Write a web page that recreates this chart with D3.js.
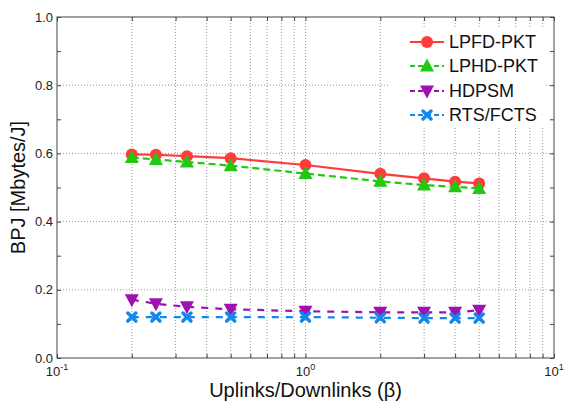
<!DOCTYPE html>
<html>
<head>
<meta charset="utf-8">
<script src="https://cdn.jsdelivr.net/npm/d3@7"></script>
<style>
  body { margin: 0; background: #fff; }
  svg { font-family: "Liberation Sans", Arial, sans-serif; }
</style>
</head>
<body>
<div id="chart"></div>
<script>
const beta = [0.2, 0.25, 1 / 3, 0.5, 1, 2, 3, 4, 5];
const lpfdPkt = [0.597, 0.596, 0.592, 0.586, 0.566, 0.54, 0.527, 0.517, 0.512];
const lphdPkt = [0.588, 0.582, 0.575, 0.564, 0.541, 0.518, 0.507, 0.502, 0.497];
const hdpsm = [0.171, 0.159, 0.15, 0.143, 0.137, 0.134, 0.134, 0.134, 0.14];
const rtsFcts = [0.12, 0.12, 0.12, 0.12, 0.12, 0.118, 0.117, 0.117, 0.117];
const yTicks = [0, 0.2, 0.4, 0.6, 0.8, 1.0];

const series = [
  { name: "LPFD-PKT", values: lpfdPkt, color: "#ff3b3b", dash: null, marker: "circle" },
  { name: "LPHD-PKT", values: lphdPkt, color: "#22c811", dash: "7,4", marker: "up" },
  { name: "HDPSM", values: hdpsm, color: "#a010b0", dash: "7,7", marker: "down" },
  { name: "RTS/FCTS", values: rtsFcts, color: "#1188ee", dash: "7,7", marker: "x" }
];

const W = 566, H = 405;
const M = { left: 57, right: 12, top: 17, bottom: 47 };

const svg = d3.select("#chart").append("svg")
  .attr("width", W).attr("height", H);

const x = d3.scaleLog().domain([0.1, 10]).range([M.left, W - M.right]);
const y = d3.scaleLinear().domain([0, 1]).range([H - M.bottom, M.top]);

// grid
const minorX = [];
for (let d = 0.1; d < 10; d *= 10)
  for (let k = 1; k <= 9; k++) minorX.push(+(d * k).toPrecision(3));
minorX.push(10);

svg.append("g").selectAll("line").data(minorX.filter(v => v > 0.1 && v < 10)).join("line")
  .attr("x1", d => x(d)).attr("x2", d => x(d))
  .attr("y1", M.top).attr("y2", H - M.bottom)
  .attr("stroke", "#999").attr("stroke-width", 1).attr("stroke-dasharray", "1,2");

svg.append("g").selectAll("line").data(yTicks.filter(v => v > 0 && v < 1)).join("line")
  .attr("x1", M.left).attr("x2", W - M.right)
  .attr("y1", d => y(d)).attr("y2", d => y(d))
  .attr("stroke", "#999").attr("stroke-width", 1).attr("stroke-dasharray", "1,2");

// axes (ticks inside, mirrored)
const yMinor = d3.range(0, 1.01, 0.1);
const axG = svg.append("g");
axG.append("g").attr("transform", `translate(${M.left},0)`)
  .call(d3.axisRight(y).tickValues(yMinor).tickSize(4).tickFormat(""))
  .call(g => g.select(".domain").remove());
axG.append("g").attr("transform", `translate(${W - M.right},0)`)
  .call(d3.axisLeft(y).tickValues(yMinor).tickSize(4).tickFormat(""))
  .call(g => g.select(".domain").remove());
axG.append("g").attr("transform", `translate(0,${H - M.bottom})`)
  .call(d3.axisTop(x).tickValues(minorX).tickSize(4).tickFormat(""))
  .call(g => g.select(".domain").remove());
axG.append("g").attr("transform", `translate(0,${M.top})`)
  .call(d3.axisBottom(x).tickValues(minorX).tickSize(4).tickFormat(""))
  .call(g => g.select(".domain").remove());
axG.selectAll(".tick line").attr("stroke", "#444");

// y tick labels
svg.append("g").selectAll("text").data(yTicks).join("text")
  .attr("x", M.left - 4).attr("y", d => y(d)).attr("dy", "0.35em")
  .attr("text-anchor", "end").attr("font-size", 13).attr("fill", "#222")
  .text(d => d.toFixed(1));

// x tick labels 10^n
const xLab = svg.append("g").selectAll("text").data([0.1, 1, 10]).join("text")
  .attr("x", d => x(d)).attr("y", H - M.bottom + 18)
  .attr("text-anchor", "middle").attr("font-size", 13).attr("fill", "#222");
xLab.append("tspan").text("10");
xLab.append("tspan").attr("dy", -6).attr("font-size", 9).text(d => Math.round(Math.log10(d)));

// frame
svg.append("rect").attr("x", M.left).attr("y", M.top)
  .attr("width", W - M.left - M.right).attr("height", H - M.top - M.bottom)
  .attr("fill", "none").attr("stroke", "#444").attr("stroke-width", 1);

// axis titles
svg.append("text").attr("x", (M.left + W - M.right) / 2).attr("y", H - 8)
  .attr("text-anchor", "middle").attr("font-size", 20).attr("fill", "#111")
  .text("Uplinks/Downlinks (β)");
svg.append("text").attr("transform", `translate(25,${(M.top + H - M.bottom) / 2}) rotate(-90)`)
  .attr("text-anchor", "middle").attr("font-size", 20).attr("fill", "#111")
  .text("BPJ [Mbytes/J]");

// markers
function drawMarker(g, type, color, cx, cy) {
  if (type === "circle") {
    g.append("circle").attr("cx", cx).attr("cy", cy).attr("r", 6).attr("fill", color);
  } else if (type === "up") {
    g.append("path").attr("d", `M${cx},${cy - 7.5}L${cx + 7},${cy + 5.5}L${cx - 7},${cy + 5.5}Z`).attr("fill", color);
  } else if (type === "down") {
    g.append("path").attr("d", `M${cx},${cy + 7.5}L${cx + 7},${cy - 5.5}L${cx - 7},${cy - 5.5}Z`).attr("fill", color);
  } else {
    g.append("path").attr("d", `M${cx - 4},${cy - 4}L${cx + 4},${cy + 4}M${cx + 4},${cy - 4}L${cx - 4},${cy + 4}`)
      .attr("stroke", color).attr("stroke-width", 3.5).attr("stroke-linecap", "round");
  }
}

const line = d3.line().x(d => x(d[0])).y(d => y(d[1]));
series.forEach(s => {
  const pts = beta.map((b, i) => [b, s.values[i]]);
  const g = svg.append("g");
  g.append("path").datum(pts).attr("d", line)
    .attr("fill", "none").attr("stroke", s.color).attr("stroke-width", 2.2)
    .attr("stroke-dasharray", s.dash);
  pts.forEach(p => drawMarker(g, s.marker, s.color, x(p[0]), y(p[1])));
});

// legend
const lg = svg.append("g");
lg.append("rect").attr("x", 388).attr("y", 29).attr("width", 158).attr("height", 98).attr("fill", "#fff");
const rowY = [42, 66, 91, 115];
series.forEach((s, i) => {
  const ly = rowY[i];
  lg.append("line").attr("x1", 410).attr("x2", 444).attr("y1", ly).attr("y2", ly)
    .attr("stroke", s.color).attr("stroke-width", 2.2).attr("stroke-dasharray", s.dash ? "5,3" : null);
  drawMarker(lg, s.marker, s.color, 427, ly);
  lg.append("text").attr("x", 449).attr("y", ly).attr("dy", "0.36em")
    .attr("font-size", 18).attr("fill", "#111").text(s.name);
});
</script>
</body>
</html>
